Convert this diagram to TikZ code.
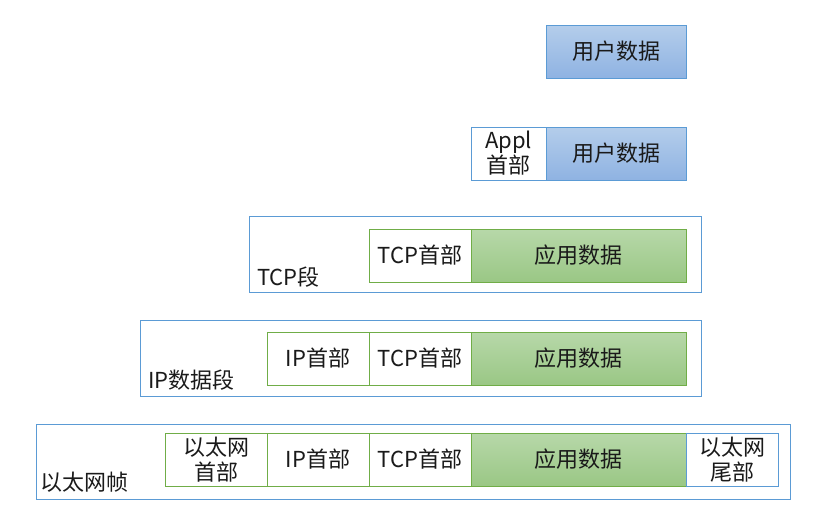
\documentclass[tikz,border=0pt]{standalone}
\usepackage{fontspec}
\setmainfont{Noto Sans CJK SC}
\usepackage{tikz}
\usetikzlibrary{positioning}
\definecolor{frameblue}{HTML}{5B9BD5}
\definecolor{fieldgreen}{HTML}{70AD47}
\definecolor{bluetop}{HTML}{B4CDEB}
\definecolor{bluebot}{HTML}{8FB3E2}
\definecolor{greentop}{HTML}{B7D8A9}
\definecolor{greenbot}{HTML}{9AC785}
\definecolor{textdark}{HTML}{1A1A1A}

\begin{document}
\begin{tikzpicture}[x=1pt, y=-1pt, font=\fontsize{22}{25}\selectfont,
    field/.style={rectangle, minimum height=53pt, inner sep=0pt, outer sep=0pt,
      align=center, line width=0.8pt, text=textdark},
    userdata/.style={field, draw=frameblue, top color=bluetop, bottom color=bluebot, minimum width=140pt},
    appdata/.style={field, draw=fieldgreen, top color=greentop, bottom color=greenbot, minimum width=215pt},
    hdrgreen/.style={field, draw=fieldgreen, fill=white, minimum width=102pt},
    hdrblue/.style={field, draw=frameblue, fill=white},
    frame/.style={rectangle, draw=frameblue, line width=0.8pt, minimum height=76pt,
      inner sep=0pt, outer sep=0pt, anchor=north west},
    framelbl/.style={anchor=west, inner sep=0pt, text=textdark}]

    \useasboundingbox (0,0) rectangle (830,523);

    % Application layer
    \node (user1) [userdata, anchor=north west] at (546,25) {用户数据};

    \node (apphdr2) [hdrblue, minimum width=75pt, anchor=north west] at (471,127) {Appl\\首部};
    \node (user2) [userdata, right=0pt of apphdr2] {用户数据};

    % Transport layer
    \node (seg3) [frame, minimum width=452pt] at (249,216) {};
    \node (seglbl3) [framelbl] at (257,277) {TCP段};
    \node (tcphdr3) [hdrgreen, anchor=north west] at (369,229) {TCP首部};
    \node (data3) [appdata, right=0pt of tcphdr3] {应用数据};

    % Network layer
    \node (pkt4) [frame, minimum width=561pt] at (140,320) {};
    \node (pktlbl4) [framelbl] at (148,380) {IP数据段};
    \node (iphdr4) [hdrgreen, anchor=north west] at (267,332) {IP首部};
    \node (tcphdr4) [hdrgreen, right=0pt of iphdr4] {TCP首部};
    \node (data4) [appdata, right=0pt of tcphdr4] {应用数据};

    % Link layer
    \node (frm5) [frame, minimum width=754pt, minimum height=75pt] at (36,424) {};
    \node (frmlbl5) [framelbl] at (40,482) {以太网帧};
    \node (ethhdr5) [hdrgreen, anchor=north west] at (165,433) {以太网\\首部};
    \node (iphdr5) [hdrgreen, right=0pt of ethhdr5] {IP首部};
    \node (tcphdr5) [hdrgreen, right=0pt of iphdr5] {TCP首部};
    \node (data5) [appdata, right=0pt of tcphdr5] {应用数据};
    \node (ethtail5) [hdrblue, minimum width=92pt, right=0pt of data5] {以太网\\尾部};
\end{tikzpicture}
\end{document}
